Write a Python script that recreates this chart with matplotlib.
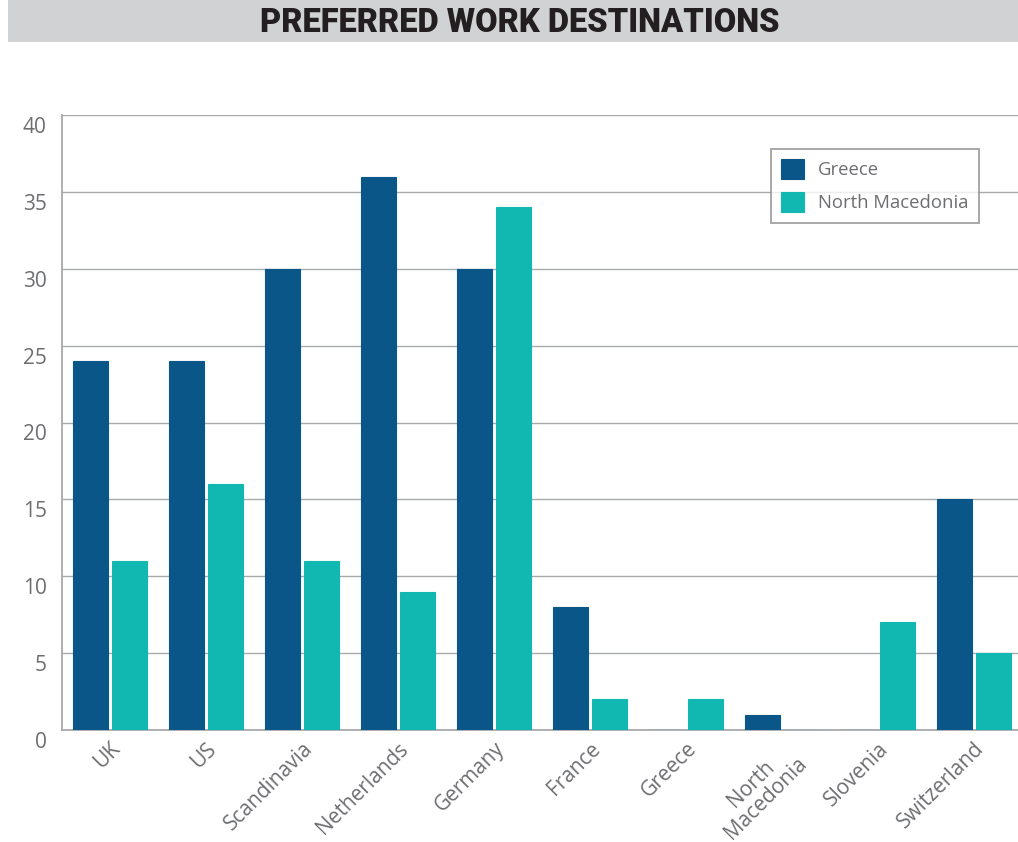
import matplotlib
matplotlib.use("Agg")
import matplotlib.pyplot as plt
import matplotlib.transforms as mtransforms
from matplotlib.patches import Rectangle
import numpy as np

categories = ["UK", "US", "Scandinavia", "Netherlands", "Germany", "France",
              "Greece", "North\nMacedonia", "Slovenia", "Switzerland"]
greece = [24, 24, 30, 36, 30, 8, 0, 1, 0, 15]
north_macedonia = [11, 16, 11, 9, 34, 2, 2, 0, 7, 5]
series_names = ["Greece", "North Macedonia"]
yticks = [0, 5, 10, 15, 20, 25, 30, 35, 40]

C_GREECE = "#0a5688"
C_NM = "#11b8b2"
TXT = "#6d6e71"
GRID = "#a7a9ac"

plt.rcParams["font.family"] = ["Open Sans", "DejaVu Sans"]

W, H = 1018, 842
fig = plt.figure(figsize=(W / 100, H / 100), dpi=100)

# title band
fig.patches.append(Rectangle((8 / W, 1 - 42 / H), 1 - 8 / W, 42 / H,
                             transform=fig.transFigure, facecolor="#d1d2d4",
                             edgecolor="none", zorder=0))
fig.text(520 / W, 1 - 23 / H, "PREFERRED WORK DESTINATIONS",
         ha="center", va="center", fontsize=23.5, fontweight=900,
         color="#231f20", family=["Roboto", "DejaVu Sans"])

ax = fig.add_axes([62 / W, 1 - 730 / H, 956 / W, 615 / H])
x = np.arange(len(categories))
bw = 0.365
off = 0.203
ax.bar(x - off, greece, bw, color=C_GREECE, edgecolor=C_GREECE, linewidth=0.8,
       label=series_names[0], zorder=5)
ax.bar(x + off, north_macedonia, bw, color=C_NM, edgecolor=C_NM, linewidth=0.8,
       label=series_names[1], zorder=5)

ax.set_xlim(-0.5, len(categories) - 0.5 - 0.04)
ax.set_ylim(0, 40)
ax.set_yticks(yticks)
ax.yaxis.grid(True, color=GRID, linewidth=1.0, zorder=0)
ax.set_axisbelow(True)
for s in ["top", "right"]:
    ax.spines[s].set_visible(False)
for s in ["left", "bottom"]:
    ax.spines[s].set_color(GRID)
    ax.spines[s].set_linewidth(1.3)
ax.spines["bottom"].set_zorder(4)

ax.tick_params(axis="both", length=0, colors=TXT, labelsize=15)
ax.tick_params(axis="y", pad=11)
for lbl in ax.get_yticklabels():
    lbl.set_transform(lbl.get_transform() +
                      mtransforms.ScaledTranslation(0, -10 / 100, fig.dpi_scale_trans))

ax.set_xticks(x)
ax.set_xticklabels(categories, rotation=45, ha="right", rotation_mode="anchor",
                   multialignment="center", fontsize=15, color=TXT,
                   linespacing=0.95)
ax.tick_params(axis="x", pad=6)

leg = ax.legend(loc="upper left", bbox_to_anchor=((771 - 62) / 956, (730 - 149) / 615),
                borderaxespad=0, frameon=True, fancybox=False, fontsize=13.3,
                handlelength=1.25, handleheight=1.25, handletextpad=0.75,
                labelspacing=0.72, borderpad=0.55, labelcolor=TXT)
leg.get_frame().set_edgecolor("#8a8a8a")
leg.get_frame().set_linewidth(1.3)

fig.savefig("out.png", dpi=100)
